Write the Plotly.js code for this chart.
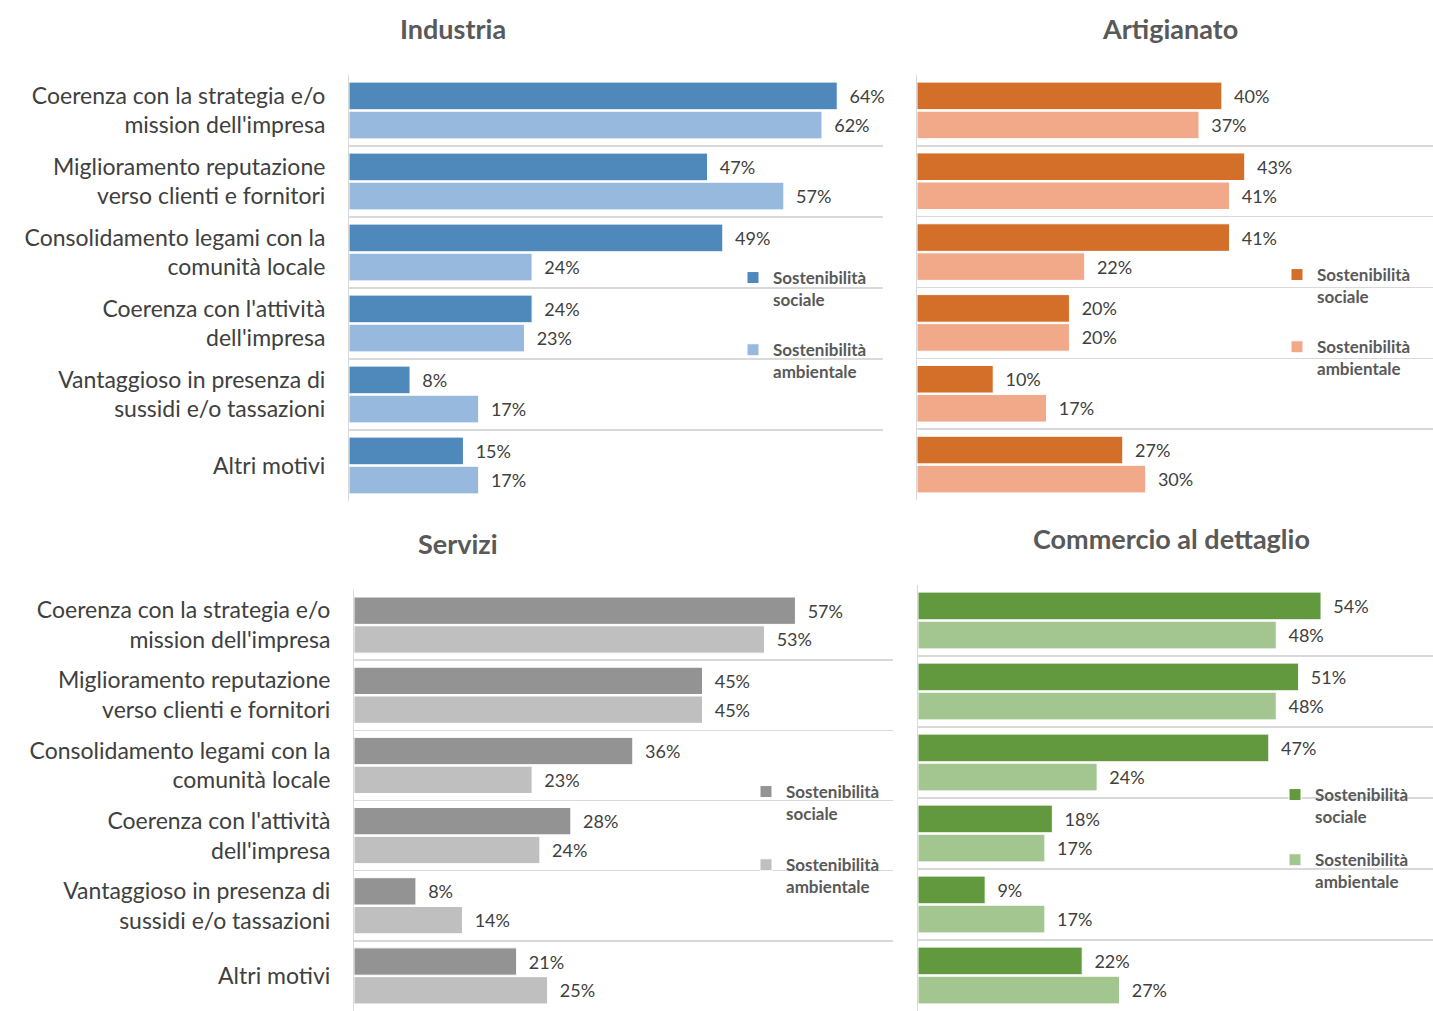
<!DOCTYPE html>
<html>
<head>
<meta charset="utf-8">
<script src="https://cdn.plot.ly/plotly-3.0.1.min.js"></script>
<style>html,body{margin:0;padding:0;background:#fff;}#chart{width:1433px;height:1011px;}</style>
</head>
<body>
<div id="chart"></div>
<script>
const categories = [
  "Coerenza con la strategia e/o<br>mission dell'impresa",
  "Miglioramento reputazione<br>verso clienti e fornitori",
  "Consolidamento legami con la<br>comunità locale",
  "Coerenza con l'attività<br>dell'impresa",
  "Vantaggioso in presenza di<br>sussidi e/o tassazioni",
  "Altri motivi"
];
const seriesNames = ["Sostenibilità<br>sociale", "Sostenibilità<br>ambientale"];

const industriaSociale    = [64, 47, 49, 24, 8, 15];
const industriaAmbientale = [62, 57, 24, 23, 17, 17];
const artigianatoSociale    = [40, 43, 41, 20, 10, 27];
const artigianatoAmbientale = [37, 41, 22, 20, 17, 30];
const serviziSociale    = [57, 45, 36, 28, 8, 21];
const serviziAmbientale = [53, 45, 23, 24, 14, 25];
const commercioSociale    = [54, 51, 47, 18, 9, 22];
const commercioAmbientale = [48, 48, 24, 17, 17, 27];

const panelTitles = ["Industria", "Artigianato", "Servizi", "Commercio al dettaglio"];

const FONT = "Lato, 'Open Sans', sans-serif";
const W = 1433, H = 1011;

function mkTrace(vals, name, color, xa, ya, leg, grp) {
  return {
    type: 'bar', orientation: 'h',
    x: vals, y: categories,
    name: name,
    xaxis: xa, yaxis: ya, legend: leg, legendgroup: grp,
    marker: {color: color, line: {color: '#ffffff', width: 1}},
    text: vals.map(v => v + '%'),
    texttemplate: '  %{text}',
    textposition: 'outside',
    cliponaxis: false,
    textfont: {family: FONT, size: 18, color: '#404040'},
    hoverinfo: 'skip'
  };
}

const data = [
  mkTrace(industriaSociale, seriesNames[0], '#4f88bb', 'x', 'y', 'legend', 'a1'),
  mkTrace(industriaAmbientale, seriesNames[1], '#98b9de', 'x', 'y', 'legend', 'b1'),
  mkTrace(artigianatoSociale, seriesNames[0], '#d46f2a', 'x2', 'y2', 'legend2', 'a2'),
  mkTrace(artigianatoAmbientale, seriesNames[1], '#f1a98a', 'x2', 'y2', 'legend2', 'b2'),
  mkTrace(serviziSociale, seriesNames[0], '#939393', 'x3', 'y3', 'legend3', 'a3'),
  mkTrace(serviziAmbientale, seriesNames[1], '#bfbfbf', 'x3', 'y3', 'legend3', 'b3'),
  mkTrace(commercioSociale, seriesNames[0], '#62993e', 'x4', 'y4', 'legend4', 'a4'),
  mkTrace(commercioAmbientale, seriesNames[1], '#a3c58f', 'x4', 'y4', 'legend4', 'b4')
];

function px(x) { return x / W; }
function py(y) { return 1 - y / H; }

function xax(d0, d1, rmax) {
  return {domain: [px(d0), Math.min(1, px(d1))], range: [0, rmax], visible: false, fixedrange: true};
}
function yax(top, bottom, rng, xa, labels) {
  return {
    domain: [Math.max(0, py(bottom)), py(top)], anchor: xa,
    type: 'category', range: rng,
    tickson: 'boundaries', showgrid: true, gridcolor: '#d9d9d9', gridwidth: 1.5,
    showline: true, linecolor: '#d9d9d9', linewidth: 1,
    ticks: '', ticklen: 0, showticklabels: labels, ticklabelstandoff: 18,
    tickfont: {family: FONT, size: 23, color: '#404040'},
    zeroline: false, fixedrange: true
  };
}
function legend(x, ytop, gap) {
  return {
    x: px(x), y: py(ytop), xanchor: 'left', yanchor: 'top',
    bgcolor: 'rgba(0,0,0,0)', borderwidth: 0, valign: 'top',
    tracegroupgap: gap, traceorder: 'grouped',
    itemwidth: 30,
    font: {family: FONT, size: 17, color: '#595959', weight: 'bold'}
  };
}

const layout = {
  width: W, height: H,
  margin: {l: 0, r: 0, t: 0, b: 0},
  paper_bgcolor: '#ffffff', plot_bgcolor: 'rgba(0,0,0,0)',
  barmode: 'group', bargap: 0.18, bargroupgap: 0.05,
  showlegend: true,
  font: {family: FONT, color: '#404040'},
  xaxis: xax(349, 883, 70),
  yaxis: yax(75, 501, [5.5, -0.5], 'x', true),
  xaxis2: xax(917, 1433, 67.7),
  yaxis2: yax(75, 500, [5.5, -0.5], 'x2', false),
  xaxis3: xax(354, 893, 69.6),
  yaxis3: yax(590, 1016, [5.5, -0.5], 'x3', true),
  xaxis4: xax(918, 1433, 69),
  yaxis4: yax(585, 1017, [5.5, -0.5], 'x4', false),
  legend: legend(733, 260, 25),
  legend2: legend(1277, 257, 25),
  legend3: legend(746, 774, 26),
  legend4: legend(1275, 777, 18),
  annotations: [
    {text: '<b>' + panelTitles[0] + '</b>', x: px(453), y: py(28)},
    {text: '<b>' + panelTitles[1] + '</b>', x: px(1170), y: py(28)},
    {text: '<b>' + panelTitles[2] + '</b>', x: px(458), y: py(543)},
    {text: '<b>' + panelTitles[3] + '</b>', x: px(1171), y: py(538)}
  ].map(a => Object.assign(a, {
    xref: 'paper', yref: 'paper', xanchor: 'center', yanchor: 'middle',
    showarrow: false, font: {family: FONT, size: 27, color: '#595959'}
  }))
};

Plotly.newPlot('chart', data, layout, {displayModeBar: false, staticPlot: true});
</script>
</body>
</html>
